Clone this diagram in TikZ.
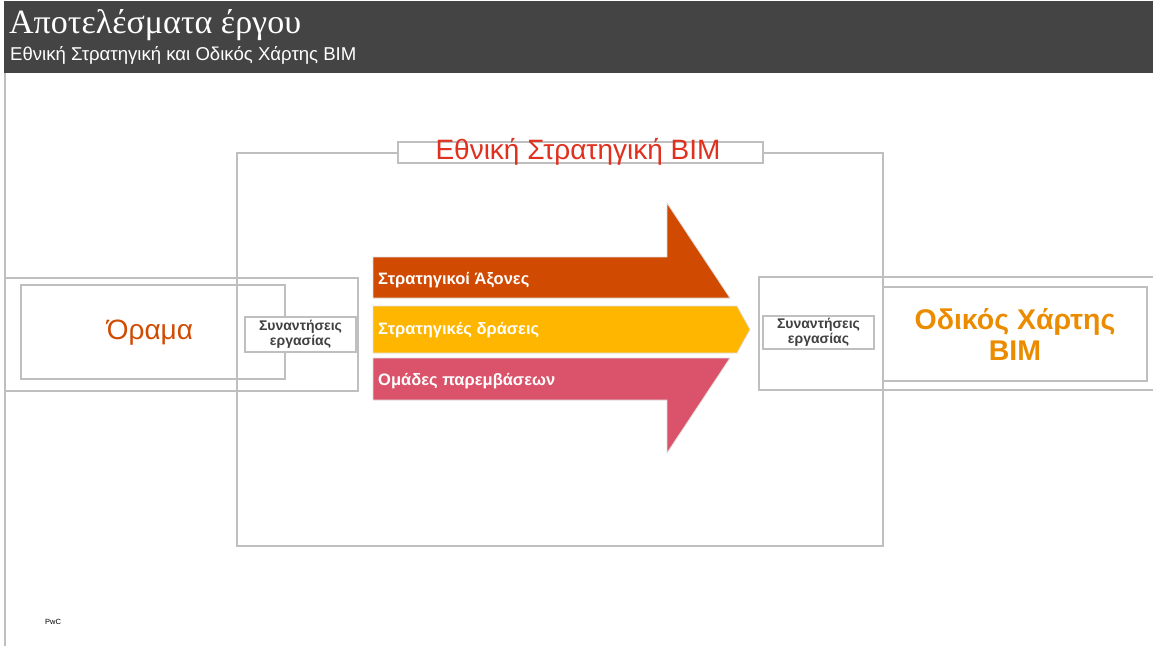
\documentclass[tikz,border=0pt]{standalone}
\usepackage{fontspec}
\setmainfont{Liberation Sans}
\newfontfamily\seriffont{Liberation Serif}
\definecolor{hdr}{HTML}{444444}
\definecolor{framegray}{HTML}{BFBFBF}
\definecolor{pwcorange}{HTML}{D04A02}
\definecolor{pwcamber}{HTML}{FFB600}
\definecolor{pwcrose}{HTML}{DB536A}
\definecolor{pwcred}{HTML}{E0301E}
\definecolor{roadorange}{HTML}{EB8C00}
\definecolor{meettext}{HTML}{404040}
\tikzset{
  framebox/.style={draw=framegray, line width=1.6pt, rectangle, inner sep=0pt},
  meetbox/.style={framebox, line width=1.3pt, fill=white, align=center,
    font=\bfseries\fontsize{14}{15}\selectfont, text=meettext},
  arrowshape/.style={draw=framegray!50, line width=0.8pt},
  arrowtext/.style={anchor=west, text=white, font=\bfseries\fontsize{16.5}{19}\selectfont, inner sep=0pt}
}
\begin{document}
\begin{tikzpicture}[x=1pt, y=-1pt]
\useasboundingbox (0,0) rectangle (1153,646);
% header
\fill[hdr] (4,1) rectangle (1153,73);
\node[anchor=base west, inner sep=0pt, text=white, font=\seriffont\fontsize{34}{36}\selectfont] (title) at (9,33) {Αποτελέσματα έργου};
\node[anchor=base west, inner sep=0pt, text=white, font=\fontsize{18.6}{21}\selectfont] (subtitle) at (10,60) {Εθνική Στρατηγική και Οδικός Χάρτης BIM};
% left page border
\draw[framegray, line width=1.2pt] (5,73) -- (5,646);
% main strategy frame
\node[framebox, line width=2pt, minimum width=646pt, minimum height=393pt] (strategy) at (560,349.5) {};
\node[framebox, line width=1.4pt, fill=white, minimum width=365pt, minimum height=21pt] (stratlabelbox) at (580.5,152.5) {};
\node[inner sep=0pt, text=pwcred, font=\fontsize{28}{30}\selectfont] (stratlabel) at (578,152) {Εθνική Στρατηγική BIM};
% left side
\node[framebox, minimum width=353pt, minimum height=113pt] (leftouter) at (181.5,334.5) {};
\node[framebox, minimum width=264pt, minimum height=94pt] (vision) at (153,332) {};
\node[inner sep=0pt, text=pwcorange, font=\fontsize{28}{32}\selectfont] (visiontext) at (150,333) {Όραμα};
\node[meetbox, minimum width=111pt, minimum height=35pt] (meetleft) at (300.5,334.5) {Συναντήσεις\\εργασίας};
% right side
\node[framebox, minimum width=401pt, minimum height=113pt] (rightouter) at (959.5,333.5) {};
\node[framebox, minimum width=264pt, minimum height=94pt, align=center, text=roadorange,
  font=\bfseries\fontsize{28.5}{31}\selectfont] (roadmap) at (1015,334) {Οδικός Χάρτης\\BIM};
\node[meetbox, minimum width=111pt, minimum height=33pt] (meetright) at (818.5,332.5) {Συναντήσεις\\εργασίας};
% arrows
\draw[arrowshape, fill=pwcorange] (373,257) -- (667,257) -- (667,203) -- (730,298) -- (373,298) -- cycle;
\draw[arrowshape, fill=pwcamber] (373,306) -- (737,306) -- (750,329.5) -- (737,353) -- (373,353) -- cycle;
\draw[arrowshape, fill=pwcrose] (373,358) -- (730,358) -- (667,453) -- (667,400) -- (373,400) -- cycle;
\node[arrowtext] (axes) at (378,280) {Στρατηγικοί Άξονες};
\node[arrowtext] (actions) at (378,330) {Στρατηγικές δράσεις};
\node[arrowtext] (groups) at (378,381) {Ομάδες παρεμβάσεων};
% footer
\node[anchor=west, inner sep=0pt, font=\fontsize{7.5}{8}\selectfont] (pwc) at (45,622) {PwC};
\end{tikzpicture}
\end{document}
